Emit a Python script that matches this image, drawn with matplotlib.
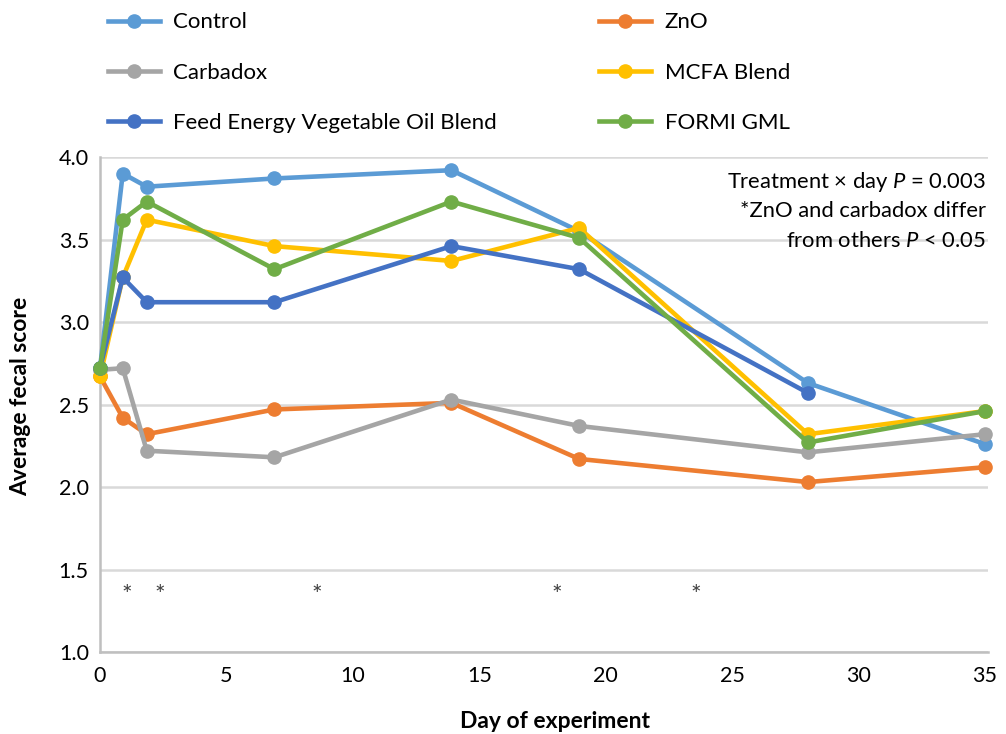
import matplotlib
matplotlib.use("Agg")
import matplotlib.pyplot as plt

plt.rcParams['font.family'] = ['Lato', 'DejaVu Sans']
plt.rcParams['mathtext.fontset'] = 'custom'
plt.rcParams['mathtext.rm'] = 'Lato'
plt.rcParams['mathtext.it'] = 'Lato:italic'

# days
days = [0, 0.9, 1.85, 6.9, 13.9, 18.95, 28, 35]
days_feo = [0, 0.9, 1.85, 6.9, 13.9, 18.95, 28]

control = [2.72, 3.90, 3.82, 3.87, 3.92, 3.55, 2.63, 2.26]
zno = [2.67, 2.42, 2.32, 2.47, 2.51, 2.17, 2.03, 2.12]
carbadox = [2.71, 2.72, 2.22, 2.18, 2.53, 2.37, 2.21, 2.32]
mcfa = [2.67, 3.27, 3.62, 3.46, 3.37, 3.57, 2.32, 2.46]
feo = [2.72, 3.27, 3.12, 3.12, 3.46, 3.32, 2.57]
formi = [2.72, 3.62, 3.73, 3.32, 3.73, 3.51, 2.27, 2.46]

star_days = [1.07, 2.37, 8.58, 18.07, 23.57]
star_y = 1.34

fig = plt.figure(figsize=(10.06, 7.34), dpi=100)
ax = fig.add_axes([0.0994, 0.1117, 0.8827, 0.6744])

series = [
    ("Control", days, control, "#5B9BD5"),
    ("Carbadox", days, carbadox, "#A5A5A5"),
    ("Feed Energy Vegetable Oil Blend", days_feo, feo, "#4472C4"),
    ("ZnO", days, zno, "#ED7D31"),
    ("MCFA Blend", days, mcfa, "#FFC000"),
    ("FORMI GML", days, formi, "#70AD47"),
]
# draw order like the original (control first, formi last)
draw_order = [0, 3, 1, 4, 2, 5]
handles = {}
for i in draw_order:
    name, x, y, c = series[i]
    ln, = ax.plot(x, y, color=c, lw=3.3, marker="o", ms=9.5, label=name,
                  solid_joinstyle="round", clip_on=False, zorder=3)
    handles[name] = ln

ax.set_xlim(0, 35.12)
ax.set_ylim(1.0, 4.0)
ax.set_xticks([0, 5, 10, 15, 20, 25, 30, 35])
ax.set_yticks([1.0, 1.5, 2.0, 2.5, 3.0, 3.5, 4.0])
ax.set_yticklabels(["1.0", "1.5", "2.0", "2.5", "3.0", "3.5", "4.0"])
ax.tick_params(length=0, labelsize=15.5, colors="#000000")
ax.tick_params(axis="y", pad=8)
ax.tick_params(axis="x", pad=10)
ax.grid(axis="y", color="#D9D9D9", lw=1.8, zorder=0)
for s in ["top", "right"]:
    ax.spines[s].set_visible(False)
for s in ["left", "bottom"]:
    ax.spines[s].set_color("#BFBFBF")
    ax.spines[s].set_linewidth(1.8)

ax.set_xlabel("Day of experiment", fontsize=16.5, fontweight="bold")
ax.set_ylabel("Average fecal score", fontsize=16.5, fontweight="bold")
ax.xaxis.set_label_coords(0.512, -0.12)
ax.yaxis.set_label_coords(-0.078, 0.517)

for d in star_days:
    ax.text(d, star_y, "*", ha="center", va="center", fontsize=18, color="#404040")

ax.text(0.998, 0.95, "Treatment \u00d7 day $P$ = 0.003", transform=ax.transAxes,
        ha="right", va="center", fontsize=15.8)
ax.text(0.998, 0.89, "*ZnO and carbadox differ", transform=ax.transAxes,
        ha="right", va="center", fontsize=15.8)
ax.text(0.998, 0.83, "from others $P$ < 0.05", transform=ax.transAxes,
        ha="right", va="center", fontsize=15.8)

names = [s[0] for s in series]
fig.legend([handles[n] for n in names], names, loc="upper left",
           bbox_to_anchor=(0.107, 0.983), ncol=2, frameon=False, fontsize=16,
           borderpad=0, borderaxespad=0, handlelength=2.35, handletextpad=0.6,
           labelspacing=1.36, columnspacing=4.6)

fig.savefig("out.png", dpi=100)
